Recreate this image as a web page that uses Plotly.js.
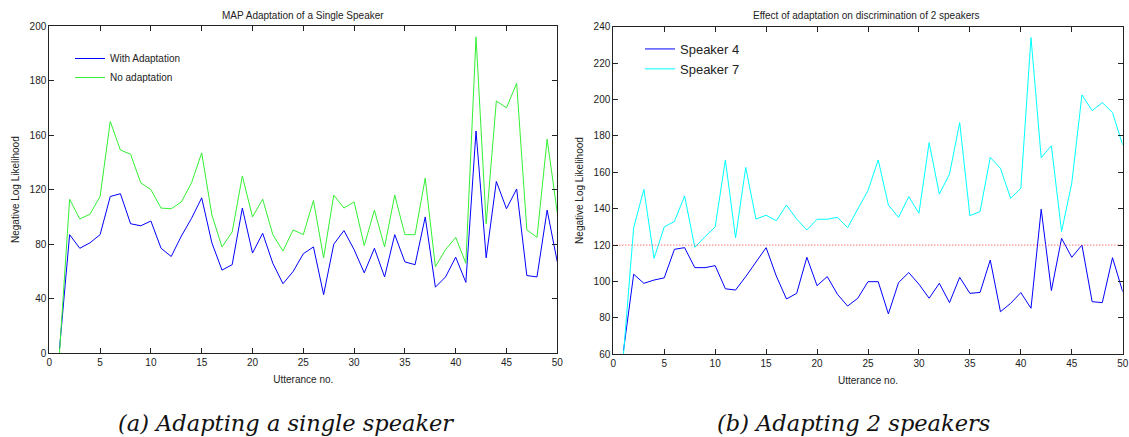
<!DOCTYPE html>
<html>
<head>
<meta charset="utf-8">
<script src="https://cdn.plot.ly/plotly-3.0.1.min.js"></script>
<style>
  html, body { margin: 0; padding: 0; background: #fff; }
  #chart { width: 1129px; height: 437px; }
</style>
</head>
<body>
<div id="chart"></div>
<script>
// ---- Data ----
const utteranceNo = [1,2,3,4,5,6,7,8,9,10,11,12,13,14,15,16,17,18,19,20,21,22,23,24,25,26,27,28,29,30,31,32,33,34,35,36,37,38,39,40,41,42,43,44,45,46,47,48,49,50];

// (a) single speaker (values on the evenly spaced axis scale)
const withAdaptation = [3,87,77,81,87,115,117,95,93.5,97,77,71,86,99,114,81,61,65,106.5,73.5,88,66,51,60,73,78,43,80,90,76,59,77,56,87,67,65,100,48.5,56,70.5,52,163,70,126,106,120.5,57,56,105,67];
const noAdaptation = [0,113,98.5,102,115,170,149,146,125,120,106.5,106,111,125,147,101.5,78,89,130,100,113,87,75,90.5,87,112,70,116,106.5,111,79,105,78,116,87,87,128.5,63.5,76,85,66,232,95,185,180,198,90.5,85,157,103];

// (b) two speakers
const speaker4 = [62,104,99,100.8,102,117.7,118.6,107.6,107.6,108.7,96,95.3,102.7,111,118.6,103,90.4,93.5,113.3,97.7,102.7,93,86.5,90.8,99.9,99.9,82.2,99.4,104.9,98.5,90.8,99,88.4,102.3,93.5,94,111.8,83.4,88,93.9,85.3,139.7,95,123.7,113.3,120,88.9,88.4,113.1,94.4];
const speaker7 = [60,129.6,150.6,112.7,130,133,147,118.8,124.6,130,166.8,124,162.7,134.3,136.4,133.4,142,134.3,128.3,134.2,134.2,135.3,129.6,140.2,150,166.8,142,135.3,146.6,137.5,176.3,148,159,187.3,136.2,138.4,168.2,162.2,145.7,151.2,234,168,174.6,127.4,154,202.5,193.9,198.3,192.8,175];
const thresholdX = [0, 50];
const thresholdY = [120, 120];

// tick labels
const xTicks = [0,5,10,15,20,25,30,35,40,45,50];
const yTicksA = [0,40,80,120,160,200,240];
const yTickTextA = ['0','40','80','120','160','180','200'];
const yTicksB = [60,80,100,120,140,160,180,200,220,240];

const titleA = 'MAP Adaptation of a Single Speaker';
const titleB = 'Effect of adaptation on discrimination of 2 speakers';
const captionA = '(a) Adapting a single speaker';
const captionB = '(b) Adapting 2 speakers';
const xTitle = 'Utterance no.';
const yTitle = 'Negative Log Likelihood';

// ---- Styling ----
const FONT = 'Liberation Sans, Arial, sans-serif';
const CAPFONT = {family: 'DejaVu Serif, serif', size: 22.5, color: '#111', style: 'italic', weight: 'normal'};
const axisCommon = {
  showline: true, mirror: 'ticks', linecolor: '#222', linewidth: 1,
  ticks: 'inside', ticklen: 5, tickcolor: '#222', tickwidth: 1,
  showgrid: false, zeroline: false,
  tickfont: {family: FONT, size: 10, color: '#222'}
};

const traces = [
  {x: utteranceNo, y: withAdaptation, type: 'scatter', mode: 'lines', name: 'With Adaptation',
   line: {color: '#0000ff', width: 1}, xaxis: 'x', yaxis: 'y', legend: 'legend'},
  {x: utteranceNo, y: noAdaptation, type: 'scatter', mode: 'lines', name: 'No adaptation',
   line: {color: '#33f033', width: 1}, xaxis: 'x', yaxis: 'y', legend: 'legend'},
  {x: utteranceNo, y: speaker4, type: 'scatter', mode: 'lines', name: 'Speaker 4',
   line: {color: '#0000ff', width: 1}, xaxis: 'x2', yaxis: 'y2', legend: 'legend2'},
  {x: utteranceNo, y: speaker7, type: 'scatter', mode: 'lines', name: 'Speaker 7',
   line: {color: '#00ffff', width: 1}, xaxis: 'x2', yaxis: 'y2', legend: 'legend2'},
  {x: thresholdX, y: thresholdY, type: 'scatter', mode: 'lines', name: 'threshold', showlegend: false,
   line: {color: '#ff3333', width: 1, dash: '1px,2px'}, xaxis: 'x2', yaxis: 'y2'}
];

const W = 1129, H = 437;
const layout = {
  width: W, height: H,
  margin: {l: 0, r: 0, t: 0, b: 0},
  paper_bgcolor: '#fff', plot_bgcolor: '#fff',
  font: {family: FONT, size: 10, color: '#222'},
  xaxis: Object.assign({}, axisCommon, {
    domain: [49.3/W, 557.3/W], range: [0, 50], tickvals: xTicks, anchor: 'y',
    title: {text: xTitle, font: {family: FONT, size: 10, color: '#222'}, standoff: 8}
  }),
  yaxis: Object.assign({}, axisCommon, {
    domain: [(H-353.3)/H, (H-26)/H], range: [0, 240], tickvals: yTicksA, ticktext: yTickTextA, anchor: 'x',
    title: {text: yTitle, font: {family: FONT, size: 10, color: '#222'}, standoff: 8}
  }),
  xaxis2: Object.assign({}, axisCommon, {
    domain: [613.3/W, 1122.7/W], range: [0, 50], tickvals: xTicks, anchor: 'y2',
    title: {text: xTitle, font: {family: FONT, size: 10, color: '#222'}, standoff: 8}
  }),
  yaxis2: Object.assign({}, axisCommon, {
    domain: [(H-354.3)/H, (H-26.7)/H], range: [60, 240], tickvals: yTicksB, anchor: 'x2',
    title: {text: yTitle, font: {family: FONT, size: 10, color: '#222'}, standoff: 8}
  }),
  legend: {x: 70/W, y: (H-44)/H, xanchor: 'left', yanchor: 'top', bgcolor: 'rgba(0,0,0,0)',
           font: {family: FONT, size: 10, color: '#222'}, tracegroupgap: 0},
  legend2: {x: 640/W, y: (H-34)/H, xanchor: 'left', yanchor: 'top', bgcolor: 'rgba(0,0,0,0)',
            font: {family: FONT, size: 13, color: '#222'}, tracegroupgap: 0},
  showlegend: true,
  annotations: [
    {text: titleA, xref: 'paper', yref: 'paper', x: 303/W, y: (H-15)/H, xanchor: 'center', yanchor: 'middle',
     showarrow: false, font: {family: FONT, size: 10, color: '#222'}},
    {text: titleB, xref: 'paper', yref: 'paper', x: 866/W, y: (H-15)/H, xanchor: 'center', yanchor: 'middle',
     showarrow: false, font: {family: FONT, size: 10, color: '#222'}},
    {text: captionA, xref: 'paper', yref: 'paper', x: 286/W, y: (H-423)/H, xanchor: 'center', yanchor: 'middle',
     showarrow: false, font: CAPFONT},
    {text: captionB, xref: 'paper', yref: 'paper', x: 853/W, y: (H-423)/H, xanchor: 'center', yanchor: 'middle',
     showarrow: false, font: CAPFONT}
  ]
};

Plotly.newPlot('chart', traces, layout, {displayModeBar: false, staticPlot: true});
</script>
</body>
</html>
